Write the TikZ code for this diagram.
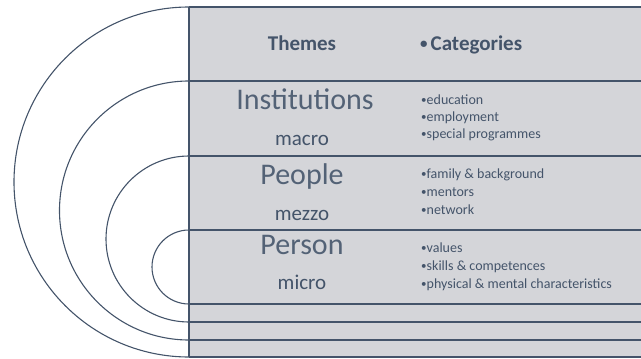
\documentclass[tikz,border=0pt]{standalone}
\usepackage{fontspec}
\setmainfont{Carlito}
\usepackage{xcolor}
\definecolor{slate}{HTML}{44546A}
\definecolor{panel}{RGB}{212,213,217}
\newcommand{\dotmark}[2]{{\fontsize{#1}{#1}\selectfont\raisebox{#2}{•}}}

\begin{document}
\begin{tikzpicture}[
  x=1pt,
  y=-1pt,
  ring/.style={draw=slate, line width=1.1pt},
  rule/.style={draw=slate, line width=1.2pt},
  head/.style={anchor=base, inner sep=0pt, text=slate, font=\fontsize{21}{25}\selectfont\bfseries},
  theme/.style={anchor=base, inner sep=0pt, text=slate!92, font=\fontsize{30}{36}\selectfont},
  level/.style={anchor=base, inner sep=0pt, text=slate, font=\fontsize{21}{25}\selectfont},
  item/.style={anchor=base west, inner sep=0pt, text=slate, font=\fontsize{14}{17}\selectfont},
]
\useasboundingbox (0,0) rectangle (641,359);

% Panel
\fill[panel] (189,7) rectangle (641,357);
\foreach \y in {7,81,156,230,304,322,340,357}
  \draw[rule] (189,\y) -- (641,\y);
\draw[rule] (189,7) -- (189,357);

% Rings (half circles, left of the panel)
\foreach \t/\r in {7/175,81/129.5,156/83,230/37}
  \draw[ring] (189,\t) arc[start angle=270, end angle=90, radius=\r];

% Header
\node[head] (themes) at (302,50) {Themes};
\node[head, anchor=base west] (categories) at (420,50) {\dotmark{15}{1.8pt}\hspace{3pt}Categories};

% Themes and levels
\node[theme] (institutions) at (305,109) {Institutions};
\node[level] (macro) at (302,145) {macro};
\node[theme] (people) at (302,184) {People};
\node[level] (mezzo) at (302,220) {mezzo};
\node[theme] (person) at (302,254) {Person};
\node[level] (micro) at (302,289) {micro};

% Categories
\foreach \n/\y/\txt in {edu/104/education, emp/121/employment, spec/138/special programmes,
                        fam/178/family \& background, ment/196/mentors, net/214/network,
                        val/252/values, skill/270/skills \& competences,
                        phys/288/physical \& mental characteristics}
  \node[item] (\n) at (421,\y) {\dotmark{11}{1pt}\txt};

\end{tikzpicture}
\end{document}
